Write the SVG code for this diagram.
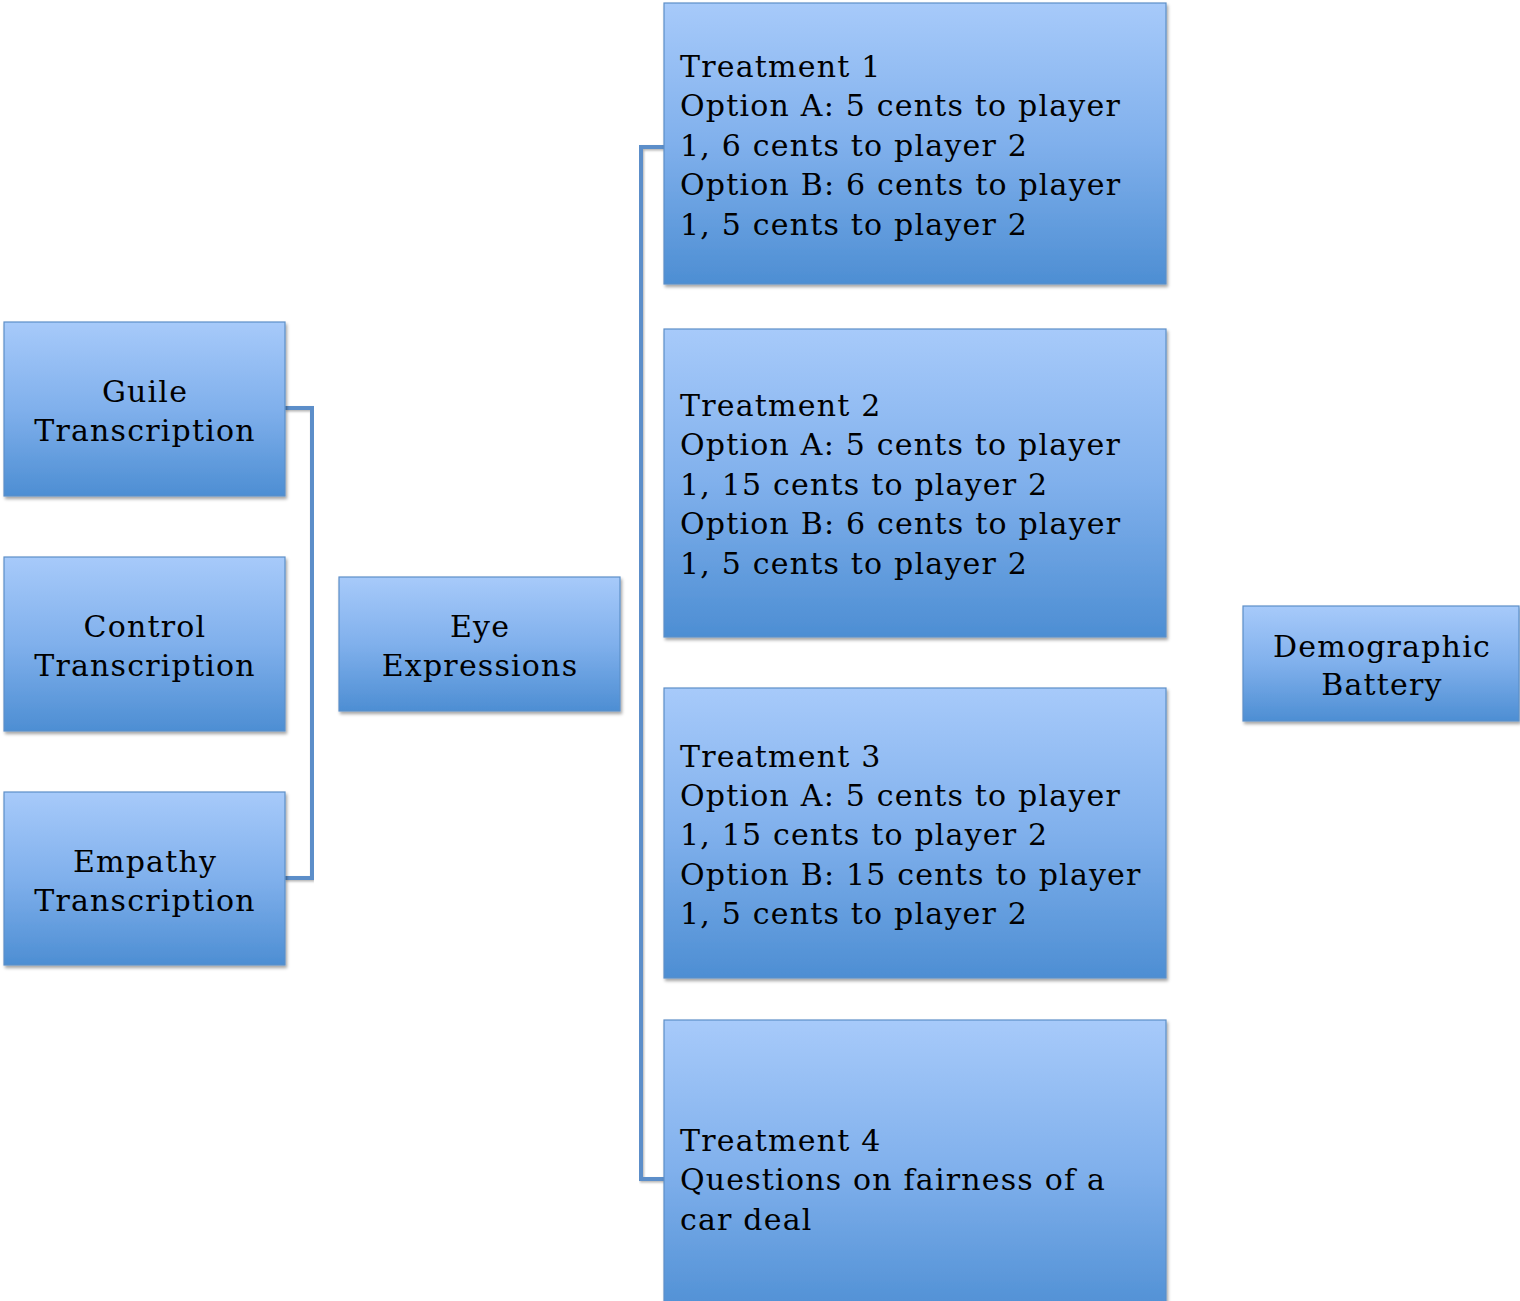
<svg xmlns="http://www.w3.org/2000/svg" width="1520" height="1301" viewBox="0 0 1520 1301">
<defs>
<linearGradient id="g" x1="0" y1="0" x2="0" y2="1">
<stop offset="0" stop-color="#a7cafa"/>
<stop offset="0.5" stop-color="#80b0ec"/>
<stop offset="1" stop-color="#4d8ed3"/>
</linearGradient>
<filter id="sh" x="-5%" y="-5%" width="110%" height="115%">
<feDropShadow dx="1.5" dy="2.5" stdDeviation="1.5" flood-color="#000" flood-opacity="0.35"/>
</filter>
<filter id="lsh" x="-5%" y="-5%" width="110%" height="110%">
<feDropShadow dx="1" dy="1.5" stdDeviation="1" flood-color="#000" flood-opacity="0.3"/>
</filter>
</defs>
<style>
.box{fill:url(#g);stroke:#5d8fc8;stroke-width:1.2;filter:url(#sh)}
.t{font-family:"DejaVu Serif","Liberation Serif",serif;font-size:30px;fill:#000;letter-spacing:1.2px}
.c{text-anchor:middle}
.conn{fill:none;stroke:#5b8ec9;stroke-width:4;filter:url(#lsh)}
</style>
<rect width="1520" height="1301" fill="#fff"/>
<g id="connectors">
<path class="conn" d="M285,408 H312 V878 H285"/>
<path class="conn" d="M285,643 H339"/>
<path class="conn" d="M620,645 H641"/>
<path class="conn" d="M664,147 H641 V1179 H664"/>
<path class="conn" d="M641,483 H664"/>
<path class="conn" d="M641,832 H664"/>
<path class="conn" d="M1210,663 H1243"/>
</g>
<g id="guile">
<rect class="box" x="4" y="322" width="281" height="174"/>
<text class="t c" x="145" y="402">Guile</text>
<text class="t c" x="145" y="441">Transcription</text>
</g>
<g id="control">
<rect class="box" x="4" y="557" width="281" height="174"/>
<text class="t c" x="145" y="637">Control</text>
<text class="t c" x="145" y="676">Transcription</text>
</g>
<g id="empathy">
<rect class="box" x="4" y="792" width="281" height="173"/>
<text class="t c" x="145" y="872">Empathy</text>
<text class="t c" x="145" y="911">Transcription</text>
</g>
<g id="eye">
<rect class="box" x="339" y="577" width="281" height="134"/>
<text class="t c" x="480" y="637">Eye</text>
<text class="t c" x="480" y="676">Expressions</text>
</g>
<g id="treatment1">
<rect class="box" x="664" y="3" width="502" height="281"/>
<text class="t" x="680" y="77">Treatment 1</text>
<text class="t" x="680" y="116">Option A: 5 cents to player</text>
<text class="t" x="680" y="156">1, 6 cents to player 2</text>
<text class="t" x="680" y="195">Option B: 6 cents to player</text>
<text class="t" x="680" y="235">1, 5 cents to player 2</text>
</g>
<g id="treatment2">
<rect class="box" x="664" y="329" width="502" height="308"/>
<text class="t" x="680" y="416">Treatment 2</text>
<text class="t" x="680" y="455">Option A: 5 cents to player</text>
<text class="t" x="680" y="495">1, 15 cents to player 2</text>
<text class="t" x="680" y="534">Option B: 6 cents to player</text>
<text class="t" x="680" y="574">1, 5 cents to player 2</text>
</g>
<g id="treatment3">
<rect class="box" x="664" y="688" width="502" height="290"/>
<text class="t" x="680" y="767">Treatment 3</text>
<text class="t" x="680" y="806">Option A: 5 cents to player</text>
<text class="t" x="680" y="845">1, 15 cents to player 2</text>
<text class="t" x="680" y="885">Option B: 15 cents to player</text>
<text class="t" x="680" y="924">1, 5 cents to player 2</text>
</g>
<g id="treatment4">
<rect class="box" x="664" y="1020" width="502" height="300"/>
<text class="t" x="680" y="1151">Treatment 4</text>
<text class="t" x="680" y="1190">Questions on fairness of a</text>
<text class="t" x="680" y="1230">car deal</text>
</g>
<g id="demographic">
<rect class="box" x="1243" y="606" width="276" height="115"/>
<text class="t c" x="1382" y="657">Demographic</text>
<text class="t c" x="1382" y="695">Battery</text>
</g>
</svg>
